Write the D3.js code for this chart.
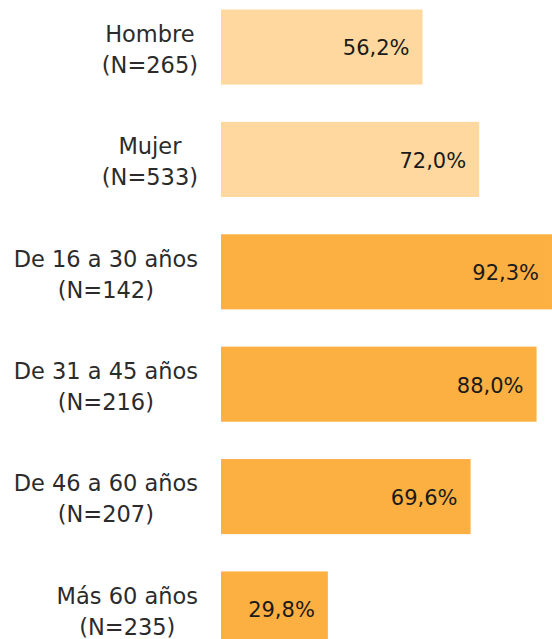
<!DOCTYPE html>
<html>
<head>
<meta charset="utf-8">
<script src="https://cdn.jsdelivr.net/npm/d3@7"></script>
<style>
  body { margin: 0; background: #fff; }
  text { font-family: "DejaVu Sans", sans-serif; }
</style>
</head>
<body>
<div id="chart"></div>
<script>
// category labels (two lines each) and percentages
var labels = ["Hombre", "Mujer", "De 16 a 30 años", "De 31 a 45 años", "De 46 a 60 años", "Más 60 años"];
var counts = ["(N=265)", "(N=533)", "(N=142)", "(N=216)", "(N=207)", "(N=235)"];
var values = [56.2, 72.0, 92.3, 88.0, 69.6, 29.8];
var groups = ["sexo", "sexo", "edad", "edad", "edad", "edad"];

var width = 552, height = 639;
var labelSize = 22.5, valueSize = 21;

var color = d3.scaleOrdinal()
  .domain(["sexo", "edad"])
  .range(["#FFD89F", "#FDB042"]);

var svg = d3.select('#chart')
  .append('svg')
  .attr('width', width)
  .attr('height', height);

var y = d3.scaleBand()
  .domain(labels)
  .range([9.5, 646.5])
  .paddingInner(0.332)
  .paddingOuter(0);

var x = d3.scaleLinear()
  .domain([0, 100])
  .range([221, 579.6]);

var data = labels.map(function(d, i) {
  return { label: d, n: counts[i], value: values[i], group: groups[i] };
});

// bars
svg.selectAll('rect.bar')
  .data(data)
  .enter()
  .append('rect')
  .attr('class', 'bar')
  .attr('x', x(0))
  .attr('y', function(d) { return y(d.label); })
  .attr('width', function(d) { return x(d.value) - x(0); })
  .attr('height', y.bandwidth())
  .attr('fill', function(d) { return color(d.group); });

// value labels inside the bar end
svg.selectAll('text.value')
  .data(data)
  .enter()
  .append('text')
  .attr('class', 'value')
  .attr('x', function(d) { return x(d.value) - 13; })
  .attr('y', function(d) { return y(d.label) + y.bandwidth() / 2 + 1; })
  .attr('dy', '0.35em')
  .attr('text-anchor', 'end')
  .style('font-size', valueSize + 'px')
  .style('fill', '#1a1a1a')
  .text(function(d) { return d.value.toFixed(1).replace('.', ',') + '%'; });

// category labels: two centred lines, block right-aligned to the bars
var cat = svg.selectAll('g.cat')
  .data(data)
  .enter()
  .append('g')
  .attr('class', 'cat');

cat.each(function(d) {
  var g = d3.select(this);
  var cy = y(d.label) + y.bandwidth() / 2;
  var t1 = g.append('text')
    .attr('y', cy - 13)
    .attr('dy', '0.35em')
    .attr('text-anchor', 'middle')
    .style('font-size', labelSize + 'px')
    .style('fill', '#2b2b2b')
    .text(d.label);
  var t2 = g.append('text')
    .attr('y', cy + 18)
    .attr('dy', '0.35em')
    .attr('text-anchor', 'middle')
    .style('font-size', labelSize + 'px')
    .style('fill', '#2b2b2b')
    .text(d.n);
  var w = Math.max(t1.node().getComputedTextLength(), t2.node().getComputedTextLength());
  var cx = 198 - w / 2;
  t1.attr('x', cx);
  t2.attr('x', cx);
});
</script>
</body>
</html>
